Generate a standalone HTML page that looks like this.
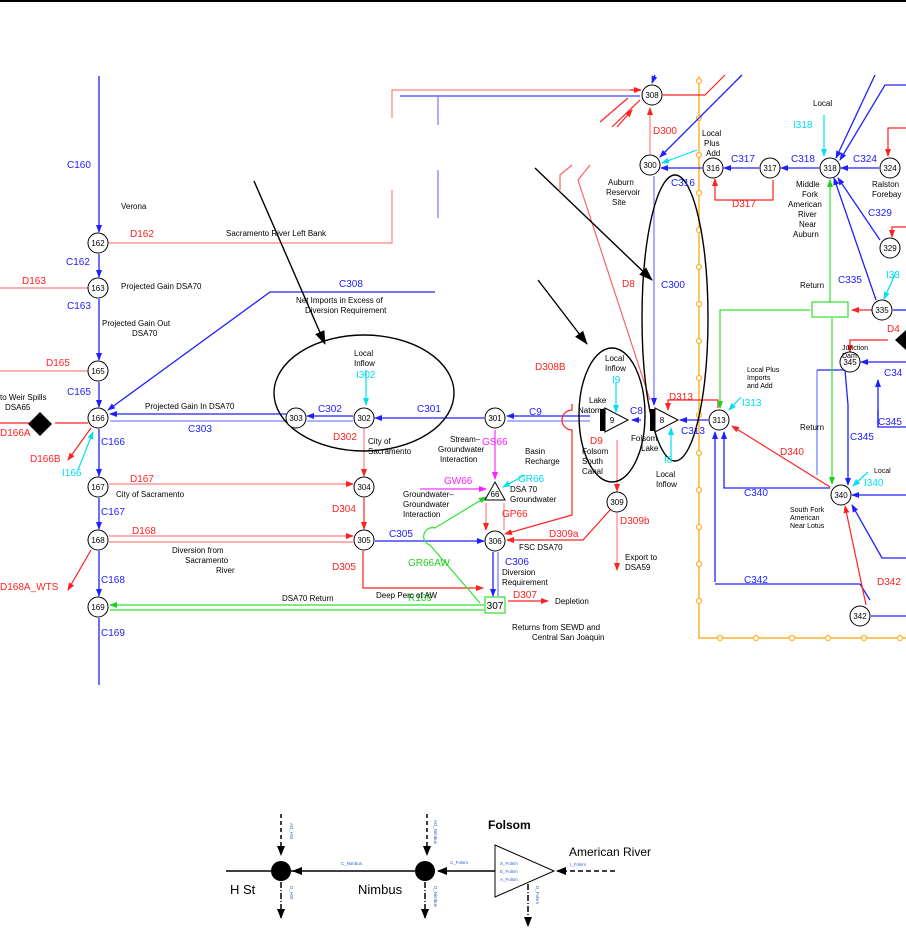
<!DOCTYPE html>
<html><head><meta charset="utf-8"><style>
html,body{margin:0;padding:0;background:#fff}
svg{display:block;font-family:"Liberation Sans",sans-serif}
.t{font-size:8px;fill:#000}
.b{font-size:10px;fill:#2020ff}
.r{font-size:10px;fill:#ff2020}
.c{font-size:10px;fill:#00e0f0}
.g{font-size:10px;fill:#20d020}
.m{font-size:10px;fill:#ff20ff}
.n{font-size:8px;fill:#000;text-anchor:middle}
</style></head><body>
<svg width="906" height="932" viewBox="0 0 906 932" xmlns="http://www.w3.org/2000/svg">
<defs>
<marker id="ab" markerWidth="8" markerHeight="8" refX="7" refY="4" orient="auto" markerUnits="userSpaceOnUse"><path d="M0,1 L8,4 L0,7z" fill="#2020ff"/></marker>
<marker id="ar" markerWidth="8" markerHeight="8" refX="7" refY="4" orient="auto" markerUnits="userSpaceOnUse"><path d="M0,1 L8,4 L0,7z" fill="#ff2020"/></marker>
<marker id="ac" markerWidth="8" markerHeight="8" refX="7" refY="4" orient="auto" markerUnits="userSpaceOnUse"><path d="M0,1 L8,4 L0,7z" fill="#00e0f0"/></marker>
<marker id="ag" markerWidth="8" markerHeight="8" refX="7" refY="4" orient="auto" markerUnits="userSpaceOnUse"><path d="M0,1 L8,4 L0,7z" fill="#20d020"/></marker>
<marker id="am" markerWidth="8" markerHeight="8" refX="7" refY="4" orient="auto" markerUnits="userSpaceOnUse"><path d="M0,1 L8,4 L0,7z" fill="#ff20ff"/></marker>
<marker id="ak" markerWidth="14" markerHeight="12" refX="13" refY="6" orient="auto" markerUnits="userSpaceOnUse"><path d="M0,1 L14,6 L0,11z" fill="#000"/></marker>
<marker id="ak2" markerWidth="10" markerHeight="10" refX="9" refY="5" orient="auto" markerUnits="userSpaceOnUse"><path d="M0,1 L10,5 L0,9z" fill="#000"/></marker>
</defs>
<rect x="0" y="0" width="906" height="2" fill="#000"/>

<g stroke="#ffb030" stroke-width="1.5" fill="none">
<path d="M699,76 V638 H906"/>
</g>
<g fill="#fff" stroke="#ffb030" stroke-width="1.2">
<circle cx="699" cy="81" r="2.5"/><circle cx="699" cy="118" r="2.5"/><circle cx="699" cy="155" r="2.5"/><circle cx="699" cy="193" r="2.5"/><circle cx="699" cy="230" r="2.5"/><circle cx="699" cy="267" r="2.5"/><circle cx="699" cy="304" r="2.5"/><circle cx="699" cy="341" r="2.5"/><circle cx="699" cy="378" r="2.5"/><circle cx="699" cy="415" r="2.5"/><circle cx="699" cy="453" r="2.5"/><circle cx="699" cy="490" r="2.5"/><circle cx="699" cy="527" r="2.5"/><circle cx="699" cy="564" r="2.5"/><circle cx="699" cy="601" r="2.5"/>
<circle cx="720" cy="638" r="2.5"/><circle cx="756" cy="638" r="2.5"/><circle cx="792" cy="638" r="2.5"/><circle cx="828" cy="638" r="2.5"/><circle cx="864" cy="638" r="2.5"/><circle cx="900" cy="638" r="2.5"/>
</g>

<g stroke="#2020ff" stroke-width="1.3" fill="none">
<path d="M99,76 V232" marker-end="url(#ab)"/>
<path d="M99,254 V277" marker-end="url(#ab)"/>
<path d="M99,299 V360" marker-end="url(#ab)"/>
<path d="M99,382 V407" marker-end="url(#ab)"/>
<path d="M99,429 V476" marker-end="url(#ab)"/>
<path d="M99,498 V529" marker-end="url(#ab)"/>
<path d="M99,551 V596" marker-end="url(#ab)"/>
<path d="M99,618 V685"/>
<path d="M435,292 H270 L108,410" marker-end="url(#ab)"/>
<path d="M286,414 H110" marker-end="url(#ab)"/>
<path d="M286,421 H110" stroke="#8080ff"/>
<path d="M353,416 H307" marker-end="url(#ab)"/>
<path d="M353,421 H307" stroke="#8080ff"/>
<path d="M484,418 H375" marker-end="url(#ab)"/>
<path d="M590,416 H507" marker-end="url(#ab)"/>
<path d="M590,421 H507" stroke="#8080ff"/>
<path d="M375,541 H484" marker-end="url(#ab)"/>
<path d="M493,552 V596" marker-end="url(#ab)"/>
<path d="M498,552 V596" stroke="#8080ff"/>
<path d="M641,420 H632" marker-end="url(#ab)"/>
<path d="M708,420 H680" marker-end="url(#ab)"/>
<path d="M654,176 V405" stroke="#8080ff" marker-end="url(#ab)"/>
<path d="M702,168 H661" marker-end="url(#ab)"/>
<path d="M759,168 H724" marker-end="url(#ab)"/>
<path d="M819,168 H781" marker-end="url(#ab)"/>
<path d="M879,168 H841" marker-end="url(#ab)"/>
<path d="M742,75 L660,157" marker-end="url(#ab)"/>
<path d="M875,75 L836,158" marker-end="url(#ab)"/>
<path d="M906,85 H885 L840,160" marker-end="url(#ab)"/>
<path d="M880,240 L838,178" marker-end="url(#ab)"/>
<path d="M876,300 L834,178" marker-end="url(#ab)"/>
<path d="M906,310 H893"/>
<path d="M906,362 H861" marker-end="url(#ab)"/>
<path d="M830,488 H724 V432" marker-end="url(#ab)"/>
<path d="M715,582 V432" marker-end="url(#ab)"/>
<path d="M715,584 H860" stroke="#2020ff"/>
<path d="M860,584 L870,600"/>
<path d="M817,370 V475" stroke="#8080ff"/>
<path d="M817,370 H845 L848,405 V485" marker-end="url(#ab)"/>
<path d="M878,410 V427 H906"/>
<path d="M878,427 V380" marker-end="url(#ab)"/>
<path d="M906,495 H852" marker-end="url(#ab)"/>
<path d="M906,558 H882 L852,505" marker-end="url(#ab)"/>
<path d="M906,616 H871"/>
<path d="M400,96 H640" stroke="#4040ff"/>
<path d="M438,96 V125 M438,170 V218" stroke="#8080ff"/>
<path d="M655,75 L652,83" marker-end="url(#ab)"/>
</g>

<g stroke="#ff2020" stroke-width="1.2" fill="none">
<path d="M108,243 H392 V190 M392,118 V90 H640" stroke="#ff8080"/>
<path d="M630,90 H641" marker-end="url(#ar)"/>
<path d="M663,95 H705 L725,75"/>
<path d="M0,288 H88" stroke="#ff8080"/>
<path d="M0,371 H88" stroke="#ff8080"/>
<path d="M0,423 H30 M55,423 H88"/>
<path d="M91,428 L68,460" marker-end="url(#ar)"/>
<path d="M91,550 L68,590" marker-end="url(#ar)"/>
<path d="M109,484 H353" stroke="#ff8080" marker-end="url(#ar)"/>
<path d="M109,536 H353" stroke="#ff8080" marker-end="url(#ar)"/>
<path d="M109,542 H353" stroke="#ff8080"/>
<path d="M364,429 V476" stroke="#ff8080" marker-end="url(#ar)"/>
<path d="M364,498 V529" marker-end="url(#ar)"/>
<path d="M363,551 V588 H483" marker-end="url(#ar)"/>
<path d="M572,404 V410 A10,10 0 0 0 572,430 V515 L505,534" marker-end="url(#ar)"/>
<path d="M486,503 V530" stroke="#ff8080" marker-end="url(#ar)"/>
<path d="M504,503 V530" stroke="#ff8080"/>
<path d="M610,510 L583,540 H507" marker-end="url(#ar)"/>
<path d="M617,440 V491" stroke="#ff8080" marker-end="url(#ar)"/>
<path d="M617,513 V570" stroke="#ff8080" marker-end="url(#ar)"/>
<path d="M508,601 H548" marker-end="url(#ar)"/>
<path d="M650,154 V108" stroke="#ff8080" marker-end="url(#ar)"/>
<path d="M617,127 L632,110" marker-end="url(#ar)"/>
<path d="M612,127 L640,100"/>
<path d="M600,122 L628,98"/>
<path d="M572,165 L560,175 V190" stroke="#ff6060"/>
<path d="M590,165 L578,180 L650,400" stroke="#ff6060"/>
<path d="M773,180 V200 H715 V179" marker-end="url(#ar)"/>
<path d="M718,408 V400 H668 V410" marker-end="url(#ar)"/>
<path d="M906,128 H888 V156" marker-end="url(#ar)"/>
<path d="M906,227 H892 V237" marker-end="url(#ar)"/>
<path d="M872,310 H852" marker-end="url(#ar)"/>
<path d="M888,340 H850 V352" marker-end="url(#ar)"/>
<path d="M830,487 L732,426" marker-end="url(#ar)"/>
<path d="M866,605 L845,506" marker-end="url(#ar)"/>
</g>

<g stroke="#30e030" stroke-width="1.2" fill="none">
<path d="M484,605 H110" marker-end="url(#ag)"/>
<path d="M484,610 H110"/>
<path d="M480,603 L430,545 A8,8 0 0 1 435,528 L486,497" marker-end="url(#ag)"/>
<path d="M810,310 H720 V408" marker-end="url(#ag)"/>
<path d="M830,303 V180" marker-end="url(#ag)"/>
<path d="M832,318 V484" marker-end="url(#ag)"/>
<rect x="812" y="302" width="36" height="15"/>
<rect x="485" y="597" width="20" height="16"/>
</g>

<g stroke="#00e0f0" stroke-width="1.2" fill="none">
<path d="M366,370 V405" marker-end="url(#ac)"/>
<path d="M78,470 L93,432" marker-end="url(#ac)"/>
<path d="M525,475 L503,487" marker-end="url(#ac)"/>
<path d="M616,382 V412" marker-end="url(#ac)"/>
<path d="M671,458 V428" marker-end="url(#ac)"/>
<path d="M741,397 L729,410" marker-end="url(#ac)"/>
<path d="M824,115 V156" marker-end="url(#ac)"/>
<path d="M697,150 L662,163" marker-end="url(#ac)"/>
<path d="M896,272 L884,299" marker-end="url(#ac)"/>
<path d="M868,472 L853,486" marker-end="url(#ac)"/>
</g>
<g stroke="#ff30ff" stroke-width="1.2" fill="none">
<path d="M495,430 V479" marker-end="url(#am)"/>
<path d="M420,489 H486" marker-end="url(#am)"/>
</g>

<path d="M40,412 L52,424 L40,436 L28,424z" fill="#000"/>
<path d="M895,340 L906,330 V350z" fill="#000"/>

<g stroke="#000" stroke-width="1.4" fill="none">
<ellipse cx="364" cy="393" rx="90" ry="58"/>
<ellipse cx="612" cy="415" rx="33" ry="67"/>
<ellipse cx="675" cy="318" rx="33" ry="143"/>
<path d="M254,181 L325,344" marker-end="url(#ak)"/>
<path d="M535,168 L652,280" marker-end="url(#ak)"/>
<path d="M538,280 L587,344" marker-end="url(#ak)"/>
</g>

<g fill="#fff" stroke="#000" stroke-width="1">
<circle cx="98" cy="243" r="10"/><circle cx="98" cy="288" r="10"/><circle cx="98" cy="371" r="10"/><circle cx="98" cy="418" r="10"/><circle cx="98" cy="487" r="10"/><circle cx="98" cy="540" r="10"/><circle cx="98" cy="607" r="10"/>
<circle cx="296" cy="418" r="10"/><circle cx="364" cy="418" r="10"/><circle cx="495" cy="418" r="10"/><circle cx="364" cy="487" r="10"/><circle cx="364" cy="540" r="10"/><circle cx="495" cy="541" r="10"/><circle cx="617" cy="502" r="10"/>
<circle cx="652" cy="95" r="10"/><circle cx="650" cy="165" r="10"/><circle cx="713" cy="168" r="10"/><circle cx="770" cy="168" r="10"/><circle cx="830" cy="168" r="10"/><circle cx="890" cy="168" r="10"/><circle cx="890" cy="248" r="10"/><circle cx="882" cy="310" r="10"/><circle cx="850" cy="362" r="10"/><circle cx="719" cy="420" r="10"/><circle cx="841" cy="495" r="10"/><circle cx="860" cy="616" r="10"/>
<path d="M485,500 L495,482 L505,500z" fill="#fff"/>
<path d="M605,408 L628,420 L605,432z"/>
<path d="M655,408 L678,420 L655,432z"/>
</g>
<rect x="600" y="409" width="5" height="22" fill="#000"/>
<rect x="650" y="409" width="5" height="22" fill="#000"/>
<g class="n">
<text x="98" y="246">162</text><text x="98" y="291">163</text><text x="98" y="374">165</text><text x="98" y="421">166</text><text x="98" y="490">167</text><text x="98" y="543">168</text><text x="98" y="610">169</text>
<text x="296" y="421">303</text><text x="364" y="421">302</text><text x="495" y="421">301</text><text x="364" y="490">304</text><text x="364" y="543">305</text><text x="495" y="544">306</text><text x="617" y="505">309</text>
<text x="652" y="98">308</text><text x="650" y="168">300</text><text x="713" y="171">316</text><text x="770" y="171">317</text><text x="830" y="171">318</text><text x="890" y="171">324</text><text x="890" y="251">329</text><text x="882" y="313">335</text><text x="850" y="365">345</text><text x="719" y="423">313</text><text x="841" y="498">340</text><text x="860" y="619">342</text>
<text x="495" y="497">66</text><text x="612" y="423">9</text><text x="662" y="423">8</text><text x="495" y="609" font-size="10">307</text>
</g>

<g class="b">
<text x="67" y="168">C160</text><text x="66" y="265">C162</text><text x="67" y="309">C163</text><text x="67" y="395">C165</text><text x="101" y="445">C166</text><text x="101" y="515">C167</text><text x="101" y="583">C168</text><text x="101" y="636">C169</text>
<text x="188" y="432">C303</text><text x="318" y="412">C302</text><text x="417" y="412">C301</text><text x="529" y="415">C9</text><text x="630" y="414">C8</text><text x="681" y="434">C313</text><text x="389" y="537">C305</text><text x="505" y="565">C306</text>
<text x="339" y="287">C308</text><text x="661" y="288">C300</text><text x="671" y="186">C316</text><text x="731" y="162">C317</text><text x="791" y="162">C318</text><text x="853" y="162">C324</text><text x="868" y="216">C329</text><text x="838" y="283">C335</text><text x="744" y="496">C340</text><text x="744" y="583">C342</text><text x="850" y="440">C345</text><text x="884" y="376">C34</text><text x="878" y="425">C345</text>
</g>
<g class="r">
<text x="130" y="237">D162</text><text x="22" y="284">D163</text><text x="46" y="366">D165</text><text x="0" y="436">D166A</text><text x="30" y="462">D166B</text><text x="130" y="482">D167</text><text x="132" y="534">D168</text><text x="0" y="590">D168A_WTS</text>
<text x="333" y="440">D302</text><text x="332" y="512">D304</text><text x="332" y="570">D305</text><text x="535" y="370">D308B</text><text x="590" y="444">D9</text><text x="549" y="537">D309a</text><text x="620" y="524">D309b</text><text x="513" y="598">D307</text>
<text x="653" y="134">D300</text><text x="622" y="287">D8</text><text x="669" y="400">D313</text><text x="732" y="207">D317</text><text x="780" y="455">D340</text><text x="877" y="585">D342</text><text x="887" y="332">D4</text>
</g>
<g class="c">
<text x="356" y="378">I302</text><text x="62" y="476">I166</text><text x="518" y="482">GR66</text><text x="612" y="383">I9</text><text x="664" y="463">I8</text><text x="742" y="406">I313</text><text x="793" y="128">I318</text><text x="886" y="278">I33</text><text x="864" y="486">I340</text>
</g>
<text class="m" x="482" y="445">GS66</text>
<text class="m" x="444" y="484">GW66</text>
<text class="r" x="502" y="517">GP66</text>
<text class="g" x="408" y="566">GR66AW</text>
<text class="g" x="408" y="601">R169</text>

<g class="t">
<text x="121" y="209">Verona</text>
<text x="226" y="236">Sacramento River Left Bank</text>
<text x="121" y="289">Projected Gain DSA70</text>
<text x="102" y="326">Projected Gain Out</text><text x="132" y="336">DSA70</text>
<text x="296" y="303">Net Imports in Excess of</text><text x="305" y="313">Diversion Requirement</text>
<text x="354" y="356">Local</text><text x="354" y="366">Inflow</text>
<text x="0" y="400">to Weir Spills</text><text x="5" y="410">DSA65</text>
<text x="145" y="409">Projected Gain In DSA70</text>
<text x="368" y="444">City of</text><text x="368" y="454">Sacramento</text>
<text x="116" y="497">City of Sacramento</text>
<text x="172" y="553">Diversion from</text><text x="185" y="563">Sacramento</text><text x="216" y="573">River</text>
<text x="282" y="601">DSA70 Return</text>
<text x="376" y="598">Deep Perc of AW</text>
<text x="450" y="442">Stream–</text><text x="438" y="452">Groundwater</text><text x="440" y="462">Interaction</text>
<text x="525" y="454">Basin</text><text x="525" y="464">Recharge</text>
<text x="510" y="492">DSA 70</text><text x="510" y="502">Groundwater</text>
<text x="403" y="497">Groundwater–</text><text x="403" y="507">Groundwater</text><text x="403" y="517">Interaction</text>
<text x="519" y="550">FSC DSA70</text>
<text x="502" y="575">Diversion</text><text x="502" y="585">Requirement</text>
<text x="555" y="604">Depletion</text>
<text x="512" y="630">Returns from SEWD and</text><text x="532" y="640">Central San Joaquin</text>
<text x="589" y="403">Lake</text><text x="578" y="413">Natoma</text>
<text x="605" y="361">Local</text><text x="605" y="371">Inflow</text>
<text x="582" y="454">Folsom</text><text x="582" y="464">South</text><text x="582" y="474">Canal</text>
<text x="631" y="441">Folsom</text><text x="641" y="451">Lake</text>
<text x="656" y="477">Local</text><text x="656" y="487">Inflow</text>
<text x="625" y="560">Export to</text><text x="625" y="570">DSA59</text>
<text x="608" y="185">Auburn</text><text x="606" y="195">Reservoir</text><text x="612" y="205">Site</text>
<text x="702" y="136">Local</text><text x="704" y="146">Plus</text><text x="706" y="156">Add</text>
<text x="813" y="106">Local</text>
<text x="796" y="187">Middle</text><text x="802" y="197">Fork</text><text x="788" y="207">American</text><text x="798" y="217">River</text><text x="799" y="227">Near</text><text x="793" y="237">Auburn</text>
<text x="872" y="187">Ralston</text><text x="872" y="197">Forebay</text>
<text x="800" y="288">Return</text>
<text x="800" y="430">Return</text>
<text x="747" y="372" font-size="7">Local Plus</text><text x="747" y="380" font-size="7">Imports</text><text x="747" y="388" font-size="7">and Add</text>
<text x="842" y="350" font-size="7">Junction</text><text x="842" y="358" font-size="7">Dam</text>
<text x="790" y="512" font-size="7">South Fork</text><text x="790" y="520" font-size="7">American</text><text x="790" y="528" font-size="7">Near Lotus</text>
<text x="874" y="473" font-size="7">Local</text>
</g>

<g stroke="#000" stroke-width="1.5" fill="none">
<path d="M226,871 H298" />
<path d="M415,871 H293" marker-end="url(#ak2)"/>
<path d="M500,871 H438" marker-end="url(#ak2)"/>
<path d="M615,871 H557" stroke-dasharray="5,3" marker-end="url(#ak2)"/>
<path d="M281,814 V855" stroke-dasharray="4,3" marker-end="url(#ak2)"/>
<path d="M427,814 V855" stroke-dasharray="4,3" marker-end="url(#ak2)"/>
<path d="M281,882 V918" stroke-dasharray="6,2,1,2" marker-end="url(#ak2)"/>
<path d="M425,882 V918" stroke-dasharray="6,2,1,2" marker-end="url(#ak2)"/>
<path d="M528,884 V926" stroke-dasharray="6,2,1,2" marker-end="url(#ak2)"/>
</g>
<circle cx="281" cy="871" r="10" fill="#000"/>
<circle cx="425" cy="871" r="10" fill="#000"/>
<path d="M495,845 L554,871 L495,897z" fill="#fff" stroke="#000" stroke-width="1"/>
<g font-size="4.5" fill="#3060c0">
<text x="500" y="865">S_Folsm</text><text x="500" y="873">E_Folsm</text><text x="500" y="881">A_Folsm</text>
<text x="341" y="865">C_Nimbus</text><text x="450" y="864">C_Folsm</text><text x="570" y="866">I_Folsm</text>
<text transform="translate(290,823) rotate(90)">AD_HSt</text>
<text transform="translate(290,886) rotate(90)">D_HSt</text>
<text transform="translate(434,820) rotate(90)">AD_Nimbus</text>
<text transform="translate(434,886) rotate(90)">D_Nimbus</text>
<text transform="translate(536,886) rotate(90)">D_Folsm</text>
</g>
<g font-family="Liberation Sans,sans-serif" fill="#000">
<text x="488" y="829" font-size="12" font-weight="bold">Folsom</text>
<text x="569" y="856" font-size="12">American River</text>
<text x="230" y="894" font-size="13">H St</text>
<text x="358" y="894" font-size="13">Nimbus</text>
</g>
</svg>
</body></html>
